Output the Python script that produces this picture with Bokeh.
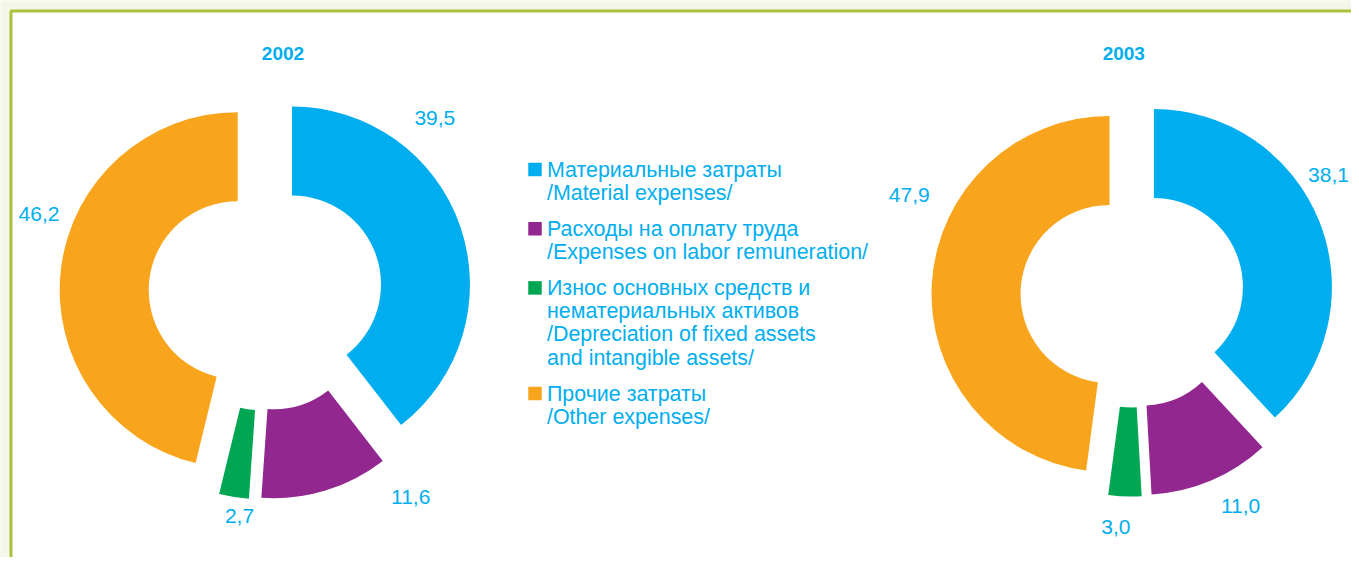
import numpy as np
from bokeh.plotting import figure
from bokeh.models import ColumnDataSource, Range1d
from bokeh.core.properties import value
from bokeh.embed import file_html
from bokeh.resources import INLINE

# ---------------- data ----------------
categories = [
    "Материальные затраты\n/Material expenses/",
    "Расходы на оплату труда\n/Expenses on labor remuneration/",
    "Износ основных средств и\nнематериальных активов\n/Depreciation of fixed assets\nand intangible assets/",
    "Прочие затраты\n/Other expenses/",
]
years = ["2002", "2003"]
values_2002 = [39.5, 11.6, 2.7, 46.2]
values_2003 = [38.1, 11.0, 3.0, 47.9]
colors = ["#00AEEF", "#92278F", "#00A651", "#F8A51D"]

# ---------------- layout / style ----------------
W, H = 1351, 557
TXT = "#00AEEF"
FONT = "Liberation Sans"


def X(sx):
    return sx


def Y(sy):
    return H - sy


R_OUT, R_IN = 178, 89
charts = [
    dict(vals=values_2002, cx=X(265), cy=Y(293), explode=28, title_x=X(282.5),
         lab_frac=[0.309, 0.055, 0.278, 0.575], lab_r=[244, 250, 224, 240]),
    dict(vals=values_2003, cx=X(1132), cy=Y(295), explode=23, title_x=X(1123.3),
         lab_frac=[0.426, 0.397, 0.68, 0.619], lab_r=[230, 237, 232, 245]),
]

p = figure(width=W, height=H, x_range=Range1d(0, W), y_range=Range1d(0, H),
           output_backend="svg", toolbar_location=None, tools="",
           x_axis_location=None, y_axis_location=None, min_border=0,
           background_fill_color="#F4F6E8", border_fill_color="#F4F6E8")
p.grid.visible = False
p.outline_line_color = None

# frame
p.quad(left=[X(10.5)], right=[W + 40], bottom=[-40], top=[Y(10.5)],
       fill_color="white", line_color="#A8C23A", line_width=3)

for ch, yr in zip(charts, years):
    vals = np.array(ch["vals"], dtype=float)
    spans = vals / vals.sum() * 2 * np.pi
    ends_cw = np.pi / 2 - np.cumsum(spans)       # clockwise from 12 o'clock
    starts_cw = ends_cw + spans
    mids = (starts_cw + ends_cw) / 2
    xs = ch["cx"] + ch["explode"] * np.cos(mids)
    ys = ch["cy"] + ch["explode"] * np.sin(mids)
    src = ColumnDataSource(dict(x=xs, y=ys, start=ends_cw, end=starts_cw, color=colors))
    p.annular_wedge(x="x", y="y", inner_radius=R_IN, outer_radius=R_OUT,
                    start_angle="start", end_angle="end", fill_color="color",
                    line_color=None, source=src)

    # value labels
    lab_ang = starts_cw - np.array(ch["lab_frac"]) * spans
    lab_r = np.array(ch["lab_r"], dtype=float)
    lsrc = ColumnDataSource(dict(
        x=ch["cx"] + lab_r * np.cos(lab_ang),
        y=ch["cy"] + lab_r * np.sin(lab_ang),
        t=[f"{v:.1f}".replace(".", ",") for v in vals]))
    p.text(x="x", y="y", text="t", source=lsrc, text_align="center",
           text_baseline="middle", text_color=TXT, text_font=value(FONT),
           text_font_size=value("21px"))

    # title
    p.text(x=[ch["title_x"]], y=[Y(52.5)], text=[yr], text_align="center",
           text_baseline="middle", text_color=TXT, text_font=value(FONT),
           text_font_size=value("19px"), text_font_style="bold")

# legend
LINE = 23.2
GAP = 12.8
base = 169.0   # vertical middle of first line
sq_x, sq_y = [], []
tx, ty, tt = [], [], []
for cat in categories:
    lines = cat.split("\n")
    sq_x.append(X(534.5))
    sq_y.append(Y(base))
    for i, ln in enumerate(lines):
        tx.append(X(546.5))
        ty.append(Y(base + i * LINE))
        tt.append(ln)
    base += len(lines) * LINE + GAP

p.rect(x=sq_x, y=sq_y, width=13.5, height=13.5, fill_color=colors, line_color=None)
p.text(x=tx, y=ty, text=tt, text_align="left", text_baseline="middle",
       text_color=TXT, text_font=value(FONT), text_font_size=value("21.4px"))

open("out.html", "w").write(file_html(p, INLINE))
